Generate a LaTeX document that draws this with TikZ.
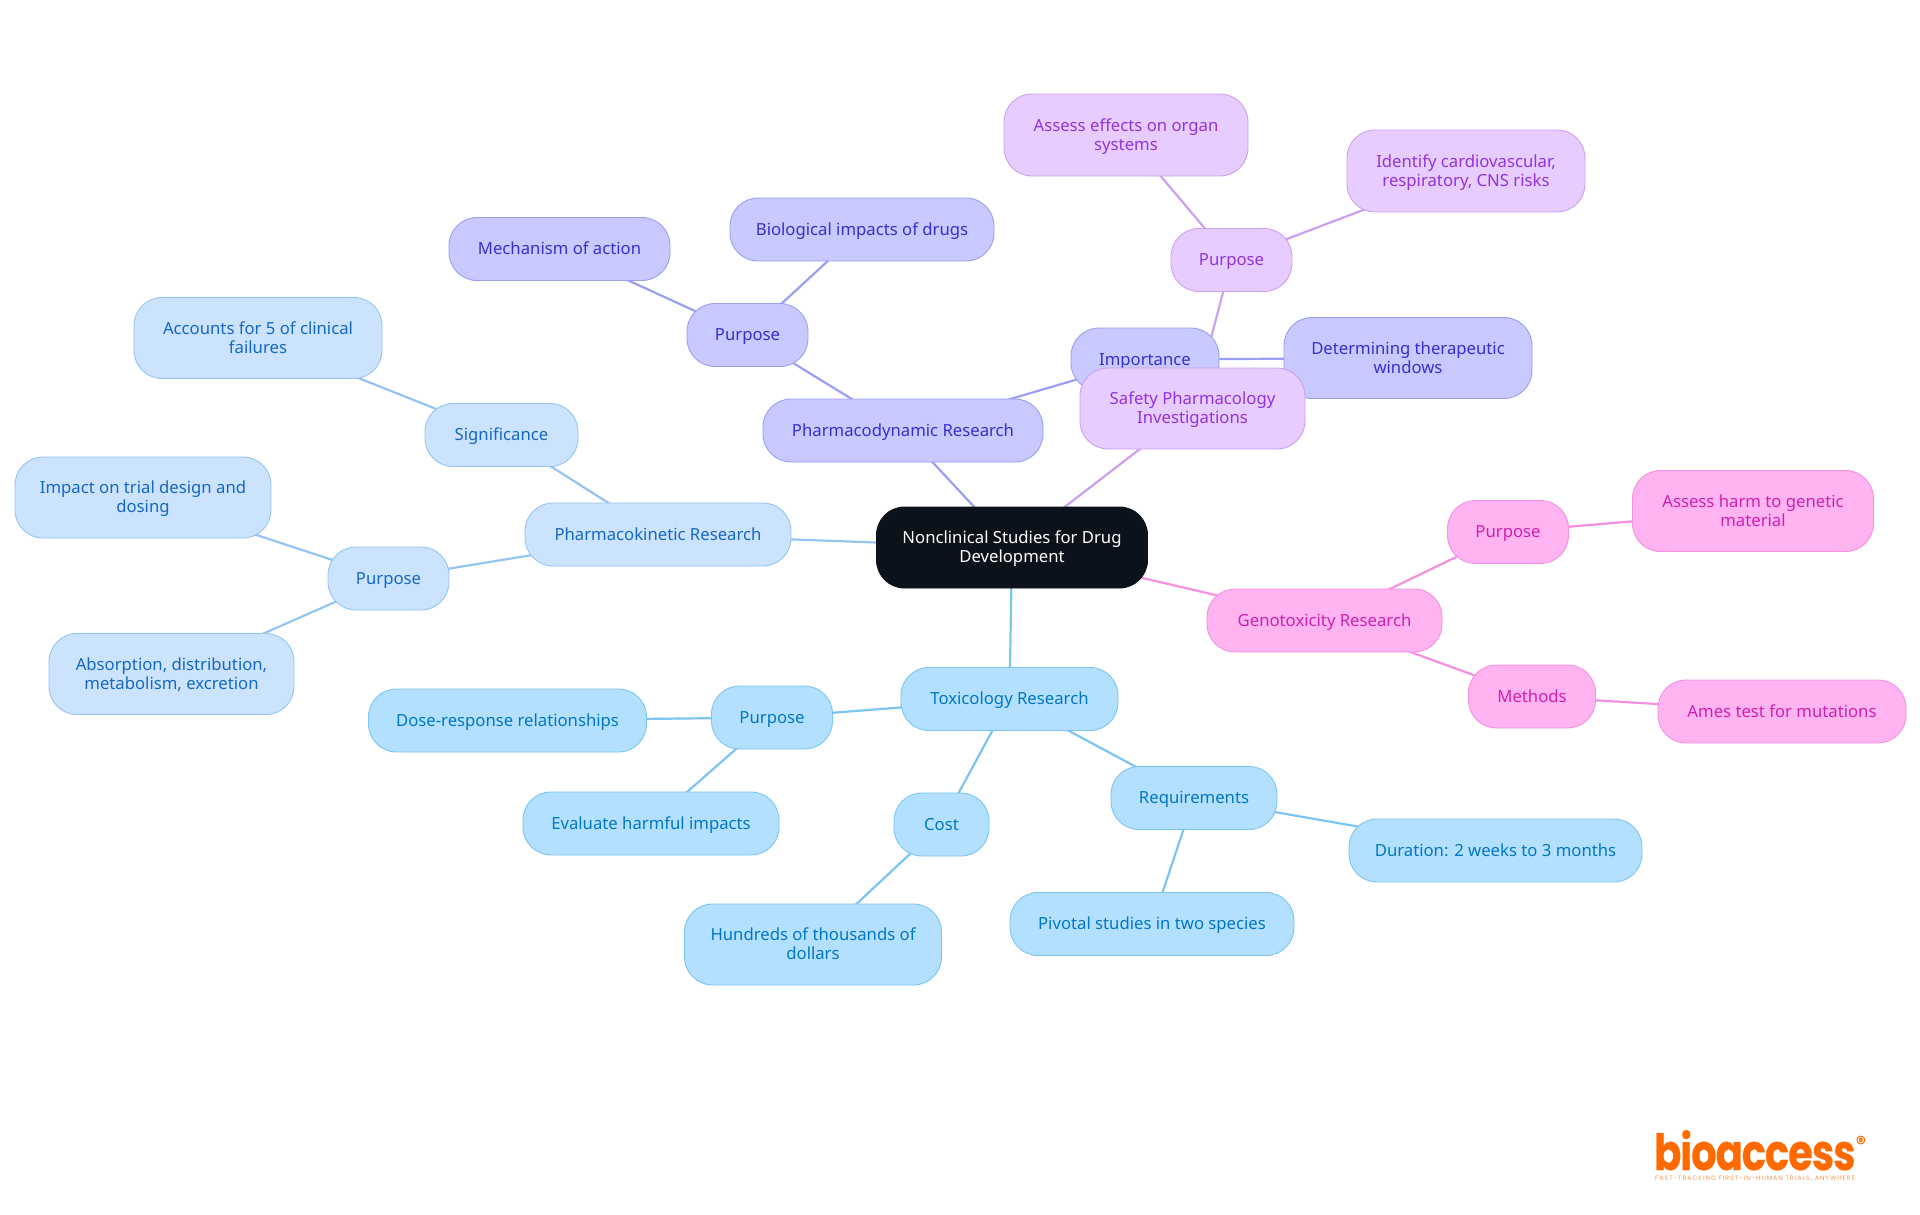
\documentclass[tikz,border=0pt]{standalone}
\usepackage{fontspec}
\setmainfont{Noto Sans}
\newfontfamily\logofont{Poppins}
\usetikzlibrary{backgrounds}
\definecolor{rootfill}{HTML}{0B121B}
\definecolor{toxf}{HTML}{B3E0FF}\definecolor{toxd}{HTML}{7CC4F2}\definecolor{toxt}{HTML}{0277C8}
\definecolor{pkf}{HTML}{CCE3FD}\definecolor{pkd}{HTML}{96C4F2}\definecolor{pkt}{HTML}{1568C8}
\definecolor{pdf}{HTML}{C7C9FF}\definecolor{pdd}{HTML}{9A9FF2}\definecolor{pdt}{HTML}{3730D0}
\definecolor{sff}{HTML}{E6CCFF}\definecolor{sfd}{HTML}{CBA0F0}\definecolor{sft}{HTML}{9333DD}
\definecolor{gnf}{HTML}{FFB3F0}\definecolor{gnd}{HTML}{F590E0}\definecolor{gnt}{HTML}{D020B0}
\definecolor{logoc}{HTML}{FF6A00}
\tikzset{
  x=1pt,y=-1pt,
  base/.style={rectangle,rounded corners=28pt,line width=0.9pt,inner sep=0pt,align=center,
    font=\fontsize{16.7}{19}\selectfont},
  rootn/.style={base,fill=rootfill,draw=rootfill,text=white},
  tox/.style={base,fill=toxf,draw=toxd,text=toxt},
  pk/.style={base,fill=pkf,draw=pkd,text=pkt},
  pd/.style={base,fill=pdf,draw=pdd,text=pdt},
  sf/.style={base,fill=sff,draw=sfd,text=sft},
  gn/.style={base,fill=gnf,draw=gnd,text=gnt},
  edge/.style={line width=2.2pt},
}
% every line is exactly 19pt high, whatever its descenders
\newcommand{\fixline}[1]{\raisebox{0pt}[15.4pt][3.6pt]{#1}}
\newcommand{\nd}[7]{\node[#6,minimum width=#4pt,minimum height=#5pt] (#1) at (#2,#3) {\fixline{#7}};}
\newcommand{\ndd}[8]{\node[#6,minimum width=#4pt,minimum height=#5pt] (#1) at (#2,#3) {\fixline{#7}\\\fixline{#8}};}
\newcommand{\ed}[3]{\draw[edge,#1] (#2.center) -- (#3.center);}
\begin{document}
\begin{tikzpicture}
\useasboundingbox (0,0) rectangle (1920,1215);
% Toxicology
\nd{tox}{1009.5}{699}{217}{63}{tox}{Toxicology Research}
\nd{toxp}{772}{717.5}{121}{63}{tox}{Purpose}
\nd{dose}{507.5}{720.5}{278}{63}{tox}{Dose-response relationships}
\nd{eval}{651}{823.5}{256}{63}{tox}{Evaluate harmful impacts}
\nd{cost}{941.5}{824.5}{95}{63}{tox}{Cost}
\ndd{hund}{813}{944.5}{257}{81}{tox}{Hundreds of thousands of}{dollars}
\nd{req}{1194}{798}{166}{63}{tox}{Requirements}
\nd{dur}{1495.5}{850.5}{293}{63}{tox}{Duration: 2 weeks to 3 months}
\nd{piv}{1152}{924}{284}{63}{tox}{Pivotal studies in two species}
% PK
\nd{pkr}{658}{534.5}{266}{63}{pk}{Pharmacokinetic Research}
\nd{sig}{501.5}{435}{153}{63}{pk}{Significance}
\ndd{acc}{258}{338}{248}{81}{pk}{Accounts for 5 of clinical}{failures}
\nd{pkp}{388.5}{578.5}{121}{63}{pk}{Purpose}
\ndd{imp}{143}{497.5}{256}{81}{pk}{Impact on trial design and}{dosing}
\ndd{abs}{171.5}{674}{245}{81}{pk}{Absorption, distribution,}{metabolism, excretion}
% PD
\nd{pdr}{903}{430.5}{280}{63}{pd}{Pharmacodynamic Research}
\nd{pdp}{747.5}{335}{121}{63}{pd}{Purpose}
\nd{mech}{559.5}{249}{221}{63}{pd}{Mechanism of action}
\nd{bio}{862}{229.5}{264}{63}{pd}{Biological impacts of drugs}
\nd{impo}{1145}{359.5}{148}{63}{pd}{Importance}
\ndd{ther}{1408}{358}{248}{81}{pd}{Determining therapeutic}{windows}
% Safety
\ndd{saf}{1192.5}{408.5}{225}{81}{sf}{Safety Pharmacology}{Investigations}
\nd{sfp}{1231.5}{260}{121}{63}{sf}{Purpose}
\ndd{org}{1126}{135}{244}{82}{sf}{Assess effects on organ}{systems}
\ndd{iden}{1466}{171}{238}{82}{sf}{Identify cardiovascular,}{respiratory, CNS risks}
% Geno
\nd{gen}{1324.5}{620.5}{235}{63}{gn}{Genotoxicity Research}
\nd{gnp}{1508}{532}{121}{63}{gn}{Purpose}
\ndd{harm}{1753}{511}{241}{81}{gn}{Assess harm to genetic}{material}
\nd{meth}{1532}{696.5}{127}{63}{gn}{Methods}
\nd{ames}{1782}{711.5}{248}{63}{gn}{Ames test for mutations}
% Root
\ndd{root}{1012}{547.5}{271}{81}{rootn}{Nonclinical Studies for Drug}{Development}
% Logo
\node[anchor=base west,inner sep=0pt,text=logoc,font=\logofont\bfseries\fontsize{50}{50}\selectfont] (logo) at (1654,1170) {\addfontfeature{LetterSpace=-2,FakeStretch=0.8,FakeBold=0.4}bioaccess};
\node[anchor=center,inner sep=0pt,text=logoc,font=\logofont\bfseries\fontsize{20}{20}\selectfont] (reg) at (1861,1143) {®};
\node[anchor=base west,inner sep=0pt,text=logoc!70,font=\logofont\fontsize{6.4}{7}\selectfont] (tag) at (1655,1180) {\addfontfeature{LetterSpace=14.5}FAST-TRACKING FIRST-IN-HUMAN TRIALS, ANYWHERE};
\begin{pgfonlayer}{background}
\ed{toxd}{root}{tox}
\ed{toxd}{tox}{toxp}\ed{toxd}{toxp}{dose}\ed{toxd}{toxp}{eval}
\ed{toxd}{tox}{cost}\ed{toxd}{cost}{hund}
\ed{toxd}{tox}{req}\ed{toxd}{req}{dur}\ed{toxd}{req}{piv}
\ed{pkd}{root}{pkr}\ed{pkd}{pkr}{sig}\ed{pkd}{sig}{acc}
\ed{pkd}{pkr}{pkp}\ed{pkd}{pkp}{imp}\ed{pkd}{pkp}{abs}
\ed{pdd}{root}{pdr}\ed{pdd}{pdr}{pdp}\ed{pdd}{pdp}{mech}\ed{pdd}{pdp}{bio}
\ed{pdd}{pdr}{impo}\ed{pdd}{impo}{ther}
\ed{sfd}{root}{saf}\ed{sfd}{saf}{sfp}\ed{sfd}{sfp}{org}\ed{sfd}{sfp}{iden}
\ed{gnd}{root}{gen}\ed{gnd}{gen}{gnp}\ed{gnd}{gnp}{harm}
\ed{gnd}{gen}{meth}\ed{gnd}{meth}{ames}
\end{pgfonlayer}
\end{tikzpicture}
\end{document}
